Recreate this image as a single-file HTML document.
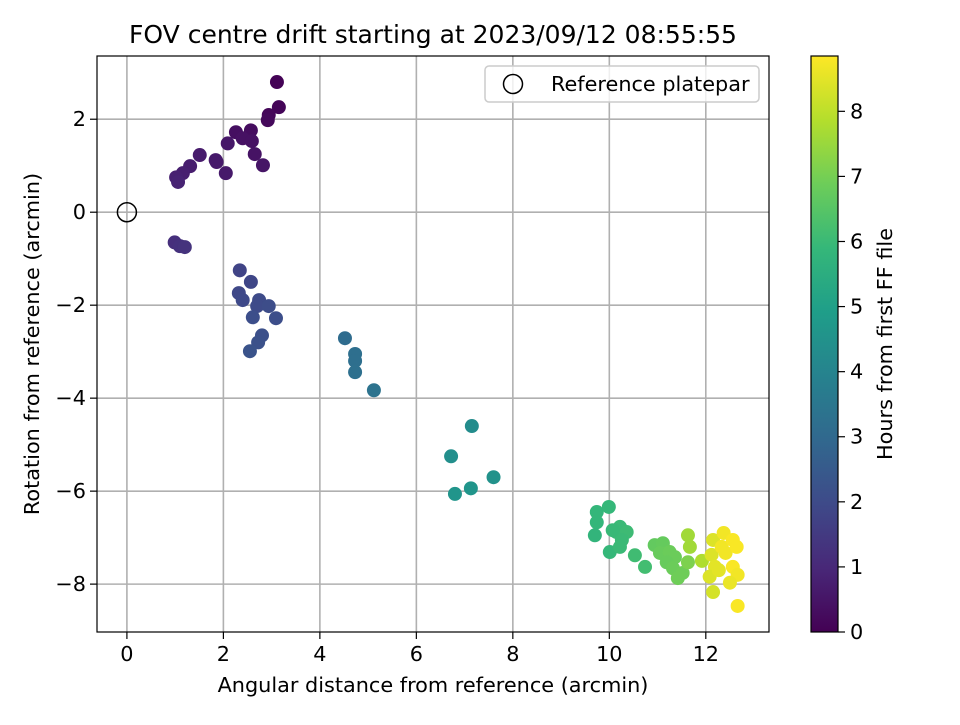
<!DOCTYPE html>
<html><head><meta charset="utf-8"><style>
body{margin:0;background:#fff}
svg text{font-family:"DejaVu Sans","Liberation Sans",sans-serif;fill:#000}
</style></head><body>
<svg id="c" width="960" height="720" viewBox="0 0 960 720" xmlns="http://www.w3.org/2000/svg">
<rect width="960" height="720" fill="#fff"/>
<g id="grid"></g><g id="pts"></g><g id="axes"></g>
</svg>
<script>
const xs=[3.11,3.15,2.94,2.92,2.57,2.26,2.40,2.59,2.65,2.82,2.09,1.84,1.86,2.05,1.51,1.31,1.16,1.02,1.06,0.99,1.10,1.20,
2.34,2.57,2.32,2.40,2.74,2.70,2.94,2.61,3.09,2.80,2.72,2.55,
4.52,4.73,4.73,4.73,5.12,
7.15,6.72,7.60,6.80,7.13,
9.99,9.74,9.74,9.70,10.01,10.22,10.15,10.36,10.26,10.22,10.07,10.53,10.74,
10.94,11.11,11.05,11.25,11.36,11.19,11.32,11.42,11.52,11.63,11.67,11.63,11.92,
12.15,12.12,12.19,12.08,12.15,12.37,12.33,12.41,12.56,12.64,12.56,12.66,12.50,12.66,12.27];
const ys=[2.80,2.26,2.09,1.98,1.76,1.72,1.59,1.53,1.25,1.01,1.48,1.12,1.08,0.84,1.23,0.99,0.84,0.75,0.65,-0.65,-0.73,-0.75,
-1.25,-1.50,-1.74,-1.89,-1.89,-2.02,-2.02,-2.26,-2.28,-2.65,-2.80,-2.99,
-2.71,-3.05,-3.20,-3.44,-3.83,
-4.60,-5.25,-5.70,-6.06,-5.94,
-6.34,-6.45,-6.67,-6.95,-7.31,-6.77,-6.88,-6.88,-7.05,-7.20,-6.84,-7.38,-7.63,
-7.16,-7.12,-7.33,-7.31,-7.42,-7.53,-7.66,-7.87,-7.76,-6.95,-7.20,-7.53,-7.50,
-7.05,-7.37,-7.63,-7.84,-8.17,-6.90,-7.20,-7.33,-7.05,-7.20,-7.63,-7.80,-7.97,-8.47,-7.70];
const hours=[0.05,0.1,0.15,0.2,0.3,0.35,0.4,0.4,0.45,0.5,0.55,0.6,0.6,0.6,0.65,0.7,0.75,0.8,0.85,1.2,1.25,1.3,
1.8,1.85,1.9,1.95,2.0,2.0,2.05,2.1,2.1,2.15,2.2,2.25,
3.1,3.2,3.2,3.25,3.35,
4.3,4.4,4.5,4.6,4.6,
5.9,5.85,5.85,5.8,5.9,6.0,6.0,6.05,6.0,6.0,5.95,6.1,6.15,
6.7,6.75,6.8,6.85,6.85,6.8,6.85,6.9,6.9,7.6,7.6,7.1,7.8,
8.4,8.4,8.5,8.4,8.3,8.7,8.7,8.7,8.8,8.8,8.8,8.7,8.6,8.8,8.5];
const xTicks=[0,2,4,6,8,10,12];
const yTicks=[2,0,-2,-4,-6,-8];
const cTicks=[0,1,2,3,4,5,6,7,8];
const X0=97,X1=769,Y0=56,Y1=632;
const xmin=-0.62,xmax=13.31,ymin=-9.03,ymax=3.36,cmax=8.85;
const sx=v=>X0+(v-xmin)/(xmax-xmin)*(X1-X0);
const sy=v=>Y1-(v-ymin)/(ymax-ymin)*(Y1-Y0);
const CB0=811,CB1=838;
const sc=v=>Y1-v/cmax*(Y1-Y0);
const vir=[[68,1,84],[72,40,120],[62,74,137],[49,104,142],[38,130,142],[31,158,137],[53,183,121],[109,205,89],[180,222,44],[253,231,37]];
function color(t){t=Math.max(0,Math.min(1,t))*(vir.length-1);const i=Math.min(Math.floor(t),vir.length-2),f=t-i;const a=vir[i],b=vir[i+1];return `rgb(${a.map((v,k)=>Math.round(v+(b[k]-v)*f)).join(',')})`;}
const NS="http://www.w3.org/2000/svg";
function mk(tag,attrs,parent,txt){const e=document.createElementNS(NS,tag);for(const k in attrs)e.setAttribute(k,attrs[k]);if(txt!==undefined)e.textContent=txt;parent.appendChild(e);return e;}
const FS=20.8;
const svg=document.getElementById('c'),grid=document.getElementById('grid'),pts=document.getElementById('pts'),axes=document.getElementById('axes');
xTicks.forEach(t=>{const x=sx(t);
const g=mk('line',{x1:x,x2:x,y1:Y0,y2:Y1,stroke:'#b0b0b0','stroke-width':1.6},grid);


mk('line',{x1:x,x2:x,y1:Y1,y2:Y1+7,stroke:'#000','stroke-width':1.2},axes);
const l=mk('text',{x:x,y:Y1+29,'text-anchor':'middle','font-size':FS},axes,String(t));

});
yTicks.forEach(t=>{const y=sy(t);
const g=mk('line',{x1:X0,x2:X1,y1:y,y2:y,stroke:'#b0b0b0','stroke-width':1.6},grid);


mk('line',{x1:X0-7,x2:X0,y1:y,y2:y,stroke:'#000','stroke-width':1.2},axes);
const l=mk('text',{x:X0-11,y:y+7,'text-anchor':'end','font-size':FS},axes,(t<0?'\u2212'+(-t):String(t)));

});
xs.forEach((v,i)=>{const c=mk('circle',{cx:sx(v),cy:sy(ys[i]),r:7,fill:color(hours[i]/cmax)},pts);

});
const ref=mk('circle',{cx:sx(0),cy:sy(0),r:9.5,fill:'none',stroke:'#000','stroke-width':1.5},pts);


const fr=mk('rect',{x:X0,y:Y0,width:X1-X0,height:Y1-Y0,fill:'none',stroke:'#000','stroke-width':1.2},axes);


const lg=mk('g',{},axes);


mk('rect',{x:485,y:66,width:274,height:36,rx:4,fill:'#fff','fill-opacity':0.8,stroke:'#ccc','stroke-width':1.5},lg);
mk('circle',{cx:513,cy:84,r:9.5,fill:'none',stroke:'#000','stroke-width':1.5},lg);
mk('text',{x:551,y:91,'font-size':FS},lg,'Reference platepar');
const tt=mk('text',{x:433,y:43,'text-anchor':'middle','font-size':25},axes,'FOV centre drift starting at 2023/09/12 08:55:55');


const xl=mk('text',{x:433,y:692,'text-anchor':'middle','font-size':FS},axes,'Angular distance from reference (arcmin)');


const yl=mk('text',{x:0,y:0,'text-anchor':'middle','font-size':FS,transform:`translate(39,${(Y0+Y1)/2}) rotate(-90)`},axes,'Rotation from reference (arcmin)');


const defs=mk('defs',{},svg);
const gr=mk('linearGradient',{id:'vg',x1:0,y1:1,x2:0,y2:0},defs);
vir.forEach((c,i)=>mk('stop',{offset:i/(vir.length-1),'stop-color':`rgb(${c.join(',')})`},gr));
const cb=mk('rect',{x:CB0,y:Y0,width:CB1-CB0,height:Y1-Y0,fill:'url(#vg)',stroke:'#000','stroke-width':1.2},axes);


cTicks.forEach(t=>{const y=sc(t);
mk('line',{x1:CB1,x2:CB1+7,y1:y,y2:y,stroke:'#000','stroke-width':1.2},axes);
const l=mk('text',{x:CB1+12,y:y+7,'font-size':FS},axes,String(t));

});
const cl=mk('text',{x:0,y:0,'text-anchor':'middle','font-size':FS,transform:`translate(892,${(Y0+Y1)/2}) rotate(-90)`},axes,'Hours from first FF file');


</script>
</body></html>
